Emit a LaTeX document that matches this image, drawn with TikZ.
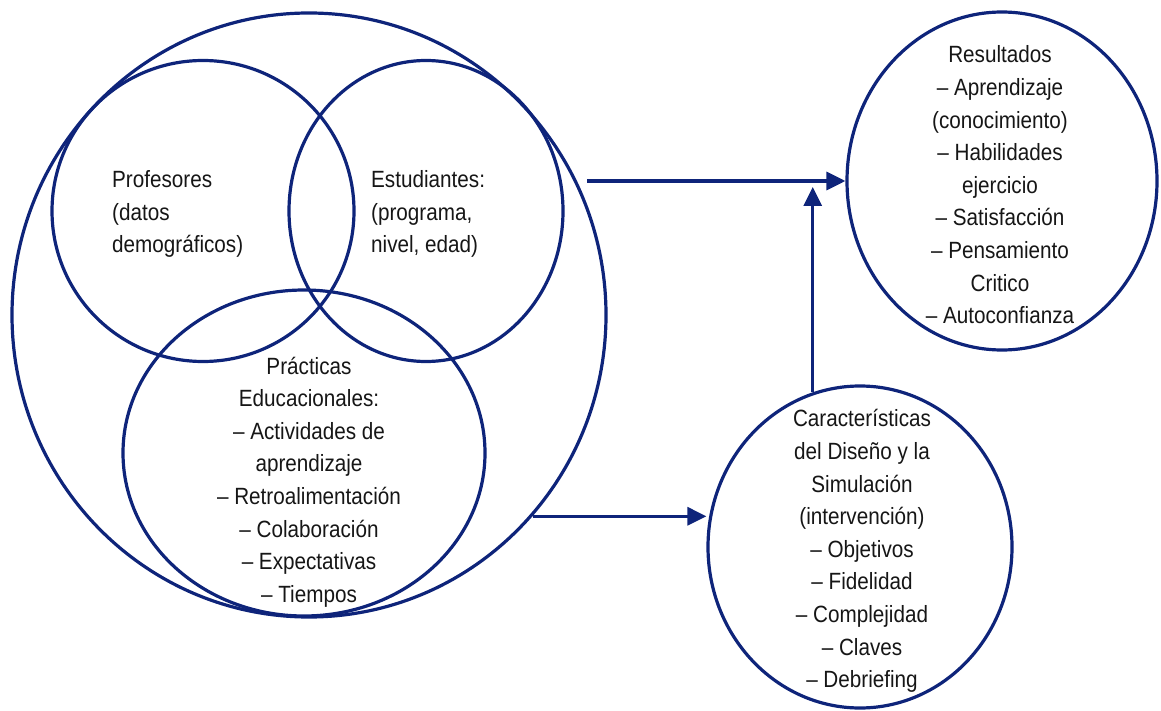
\documentclass[tikz,border=0pt]{standalone}
\usepackage{fontspec}
\setmainfont{Liberation Sans}[FakeStretch=0.88]
\usetikzlibrary{shapes.geometric,arrows.meta,positioning,calc}
\definecolor{navy}{RGB}{14,36,122}
\definecolor{ink}{RGB}{22,22,22}
\tikzset{
    ring/.style={draw=navy, line width=3.2pt, ellipse, inner sep=0pt},
    txt/.style={text=ink, font=\fontsize{23.5}{32.6}\selectfont, align=center, inner sep=0pt},
    flow/.style={->, draw=navy, line width=3.2pt}
}

\begin{document}
\begin{tikzpicture}[x=1pt, y=-1pt, >={Triangle[length=19pt,width=18pt]}]
        \useasboundingbox (0,0) rectangle (1161,711);

        % Outer circle
        \node[ring, minimum width=594pt, minimum height=604pt] (all) at (309,315) {};

        % Profesores
        \node[ring, minimum width=302pt, minimum height=301pt] (prof) at (203,211) {};
        \node[txt, align=left, anchor=west] (prof-txt) at (112,214) {Profesores\\(datos\\demográficos)};

        % Estudiantes
        \node[ring, minimum width=274pt, minimum height=301pt] (est) at (426,211) {};
        \node[txt, align=left, anchor=west] (est-txt) at (371,214) {Estudiantes:\\(programa,\\nivel, edad)};

        % Practicas
        \node[ring, minimum width=362pt, minimum height=326pt] (prac) at (304,453) {};
        \node[txt] (prac-txt) at (309,482) {Prácticas\\Educacionales:\\– Actividades de\\aprendizaje\\– Retroalimentación\\– Colaboración\\– Expectativas\\– Tiempos};

        % Resultados
        \node[ring, minimum width=310pt, minimum height=338pt] (res) at (1002,181) {};
        \node[txt] (res-txt) at (1000,185) {Resultados\\– Aprendizaje\\(conocimiento)\\– Habilidades\\ejercicio\\– Satisfacción\\– Pensamiento\\Critico\\– Autoconfianza};

        % Caracteristicas
        \node[ring, minimum width=304pt, minimum height=322pt] (car) at (860,547) {};
        \node[txt] (car-txt) at (862,551) {Características\\del Diseño y la\\Simulación\\(intervención)\\– Objetivos\\– Fidelidad\\– Complejidad\\– Claves\\– Debriefing};

        % Arrows
        \coordinate (from-venn) at (587,181);
        \draw[flow] (from-venn) -- (res.west);
        \draw[flow] (all.-42) -- (all.-42 -| car.west);
        \draw[flow] (car.107) -- ([yshift=-6pt]car.107 |- res.west);
\end{tikzpicture}
\end{document}
